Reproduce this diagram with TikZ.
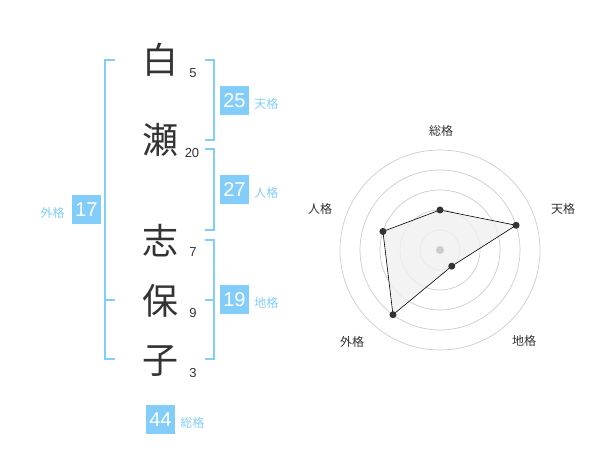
\documentclass[tikz,border=0pt]{standalone}
\usepackage{fontspec}
\setmainfont{Liberation Sans}
\newfontfamily\jpfont{Noto Sans CJK JP}
\usetikzlibrary{positioning}
\definecolor{skyblue}{HTML}{82CDFA}
\definecolor{darktext}{HTML}{333333}
\definecolor{ringgray}{HTML}{CCCCCC}
\tikzstyle{kanji} = [font=\jpfont\fontsize{36}{36}\selectfont, text=darktext, inner sep=0pt]
\tikzstyle{stroke} = [font=\fontsize{13}{13}\selectfont, text=darktext, inner sep=0pt]
\tikzstyle{score} = [fill=skyblue, text=white, minimum size=29pt, inner sep=0pt, font=\fontsize{20}{20}\selectfont]
\tikzstyle{kaku} = [text=skyblue, font=\jpfont\fontsize{12}{12}\selectfont, inner sep=0pt]
\tikzstyle{bracket} = [draw=skyblue, line width=2pt]
\tikzstyle{axis} = [text=darktext, font=\jpfont\fontsize{12}{12}\selectfont, inner sep=0pt]
\tikzstyle{ring} = [draw=ringgray, line width=0.7pt]
\tikzstyle{dot} = [circle, fill=darktext, inner sep=0pt, minimum size=7pt]

\begin{document}
\begin{tikzpicture}[x=1pt,y=-1pt]
    \useasboundingbox (0,0) rectangle (600,470);
    %名前の文字と画数
    \node (c1) [kanji] at (160,60) {白};
    \node (c2) [kanji] at (160,140) {瀬};
    \node (c3) [kanji] at (160,241) {志};
    \node (c4) [kanji] at (160,301) {保};
    \node (c5) [kanji] at (160,361) {子};
    \node (n1) [stroke] at (193,73) {5};
    \node (n2) [stroke] at (192,153) {20};
    \node (n3) [stroke] at (193,252) {7};
    \node (n4) [stroke] at (193,313) {9};
    \node (n5) [stroke] at (193,373) {3};

    %括弧
    \draw [bracket] (205,60) -- (214,60) -- (214,140) -- (205,140);
    \draw [bracket] (205,149) -- (214,149) -- (214,230) -- (205,230);
    \draw [bracket] (205,240) -- (214,240) -- (214,359) -- (205,359);
    \draw [bracket] (205,300) -- (214,300);
    \draw [bracket] (115,60) -- (105,60) -- (105,359) -- (115,359);
    \draw [bracket] (105,300) -- (115,300);

    %各格の数
    \node (ten) [score] at (234.5,100.5) {25};
    \node (jin) [score] at (234.5,190) {27};
    \node (chi) [score] at (234.5,300) {19};
    \node (gai) [score] at (86.5,210) {17};
    \node (sou) [score] at (160.5,419.5) {44};
    \node (tenl) [kaku, right=5pt of ten, yshift=-3pt] {天格};
    \node (jinl) [kaku, right=5pt of jin, yshift=-3pt] {人格};
    \node (chil) [kaku, right=5pt of chi, yshift=-3pt] {地格};
    \node (gail) [kaku, left=7pt of gai, yshift=-3pt] {外格};
    \node (soul) [kaku, right=5pt of sou, yshift=-3pt] {総格};

    %レーダーチャート
    \begin{scope}[shift={(440,250)}, y=1pt]
        \foreach \r in {20,40,60,80,100}
            \draw [ring] (0,0) circle (\r);
        \coordinate (p1) at (90:40);
        \coordinate (p2) at (18:80);
        \coordinate (p3) at (-54:20);
        \coordinate (p4) at (-126:80);
        \coordinate (p5) at (162:60);
        \fill [black!6, opacity=0.8] (p1) -- (p2) -- (p3) -- (p4) -- (p5) -- cycle;
        \draw [black, line width=0.6pt] (p1) -- (p2) -- (p3) -- (p4) -- (p5) -- cycle;
        \foreach \p in {p1,p2,p3,p4,p5}
            \node [dot] at (\p) {};
        \node (mid) [dot, fill=ringgray, minimum size=8pt] at (0,0) {};
    \end{scope}
    \node (ax1) [axis] at (441,131) {総格};
    \node (ax2) [axis] at (563,209) {天格};
    \node (ax3) [axis] at (524,341) {地格};
    \node (ax4) [axis] at (352,342) {外格};
    \node (ax5) [axis] at (320,209) {人格};
\end{tikzpicture}
\end{document}
